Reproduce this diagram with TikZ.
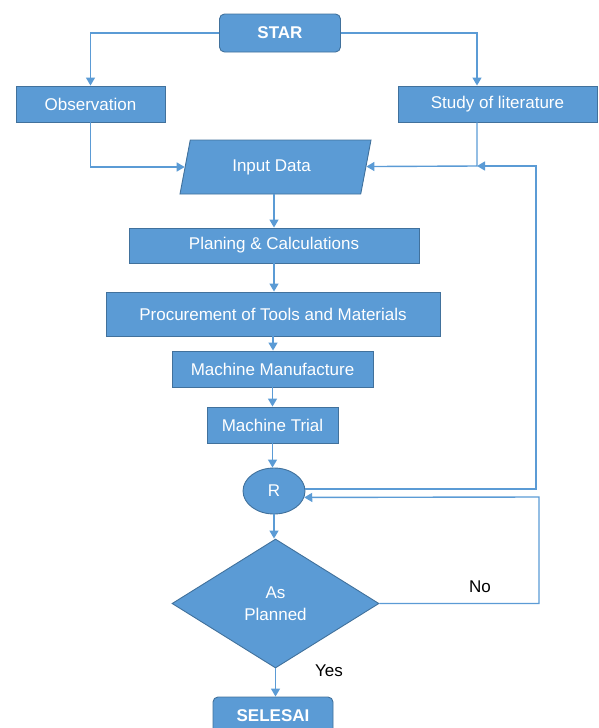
\documentclass[tikz,border=0pt]{standalone}
\usepackage{fontspec}
\setmainfont{Liberation Sans}
\usetikzlibrary{arrows.meta,shapes.geometric,calc}
\definecolor{boxblue}{HTML}{5B9BD5}
\definecolor{edgeblue}{HTML}{41719C}
\definecolor{lineblue}{HTML}{5B9BD5}
\begin{document}
\begin{tikzpicture}[x=1pt,y=-1pt,
 every node/.style={font=\fontsize{17}{22}\selectfont, inner sep=0pt},
 boxnode/.style={draw=edgeblue, fill=boxblue, line width=0.9pt, text=white},
 proc/.style={boxnode, rectangle},
 term/.style={boxnode, rectangle, rounded corners=5pt, font=\fontsize{17}{22}\selectfont\bfseries},
 conn/.style={draw=lineblue, line width=1.4pt, -{Triangle[length=8pt,width=9pt]}},
 lbl/.style={text=black}]
\useasboundingbox (0,0) rectangle (599,728);
\clip (0,0) rectangle (599,728);
\node[term, minimum width=121pt, minimum height=38pt] (star) at (280,33) {STAR};
\node[proc, minimum width=149pt, minimum height=36pt] (obs) at (90.5,104) {Observation};
\node[proc, minimum width=199pt, minimum height=36pt] (lit) at (497.5,104) {Study of literature};
\node[boxnode, trapezium, trapezium left angle=56, trapezium right angle=124, trapezium stretches body, minimum width=191pt, minimum height=54pt] (inp) at (275.5,167) {\hspace*{-8pt}Input Data};
\node[proc, minimum width=290pt, minimum height=35pt] (plan) at (274,245.5) {Planing \& Calculations};
\node[proc, minimum width=334pt, minimum height=44pt] (proc) at (273,314) {Procurement of Tools and Materials};
\node[proc, minimum width=201pt, minimum height=36pt] (manu) at (272.5,369) {Machine Manufacture};
\node[proc, minimum width=131pt, minimum height=36pt] (trial) at (272.5,425) {Machine Trial};
\node[boxnode, ellipse, minimum width=62pt, minimum height=46pt] (r) at (274,491) {R};
\node[boxnode, diamond, minimum width=207pt, minimum height=129pt, align=center] (dia) at (275.5,603.5) {As\\Planned};
\node[term, minimum width=120pt, minimum height=38pt] (end) at (273,716) {SELESAI};
\node[lbl] (no) at (480,587) {No};
\node[lbl] (yes) at (329,671) {Yes};
\coordinate (sj) at (477,166);
\coordinate (lp1) at (536,166);
\coordinate (lp2) at (539,497);
\draw[conn] (star.west) -| (obs.north);
\draw[conn] (star.east) -| (sj |- lit.north);
\draw[conn] (obs.south) |- (inp);
\draw[conn] (sj |- lit.south) -- (sj) -- (inp);
\draw[conn] (r.4) -| (lp1) -- (sj);
\draw[conn] (plan.north |- inp.south) -- (plan.north);
\draw[conn] (plan.south) -- (plan.south |- proc.north);
\draw[conn] (proc.south) -- (proc.south |- manu.north);
\draw[conn] (manu.south) -- (manu.south |- trial.north);
\draw[conn] (trial.south) -- (trial.south |- r.north);
\draw[conn] (r.south) -- (r.south |- dia.north);
\draw[conn] (dia.south) -- (dia.south |- end.north);
\draw[conn] (dia.east) -| (lp2) -- (r.-12);
\end{tikzpicture}
\end{document}
